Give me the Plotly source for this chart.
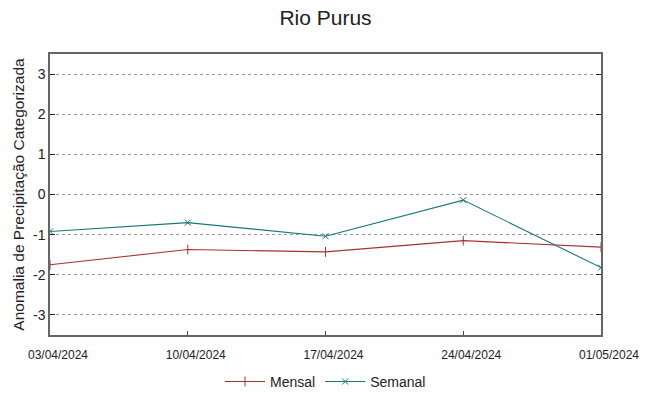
import plotly.graph_objects as go

dates = ["03/04/2024", "10/04/2024", "17/04/2024", "24/04/2024", "01/05/2024"]
mensal = [-1.75, -1.37, -1.43, -1.15, -1.31]
semanal = [-0.92, -0.70, -1.04, -0.14, -1.82]
y_ticks = [-3, -2, -1, 0, 1, 2, 3]
y_labels = ["-3", "-2", "-1", "0", "1", "2", "3"]

fig = go.Figure()
fig.add_trace(go.Scatter(x=dates, y=mensal, name="Mensal", mode="lines+markers",
                         line=dict(color="#a83232", width=1.1),
                         marker=dict(symbol="line-ns", size=7, line=dict(color="#a83232", width=1))))
fig.add_trace(go.Scatter(x=dates, y=semanal, name="Semanal", mode="lines+markers",
                         line=dict(color="#167878", width=1.1),
                         marker=dict(symbol="x-thin", size=6, line=dict(color="#167878", width=1))))

fig.update_layout(
    width=649, height=396,
    margin=dict(l=50, r=48, t=54, b=61, autoexpand=False),
    paper_bgcolor="white", plot_bgcolor="white",
    font=dict(family="Liberation Sans, Arial, sans-serif", color="#222"),
    title=dict(text="Rio Purus", x=0.5, xanchor="center", xref="paper",
               y=0.955, yref="container", yanchor="middle", automargin=False,
               font=dict(size=21, color="#222")),
    showlegend=True,
    legend=dict(orientation="h", x=0.5, xanchor="center", y=-0.167, yanchor="middle",
                font=dict(size=14), bgcolor="rgba(0,0,0,0)", itemwidth=40),
    xaxis=dict(type="category", range=[0, 4], showgrid=False, automargin=False,
               showline=True, linecolor="#666", linewidth=1.5, mirror=True,
               ticks="inside", ticklen=4, tickcolor="#444",
               ticklabelstandoff=8, ticklabelshift=8,
               tickfont=dict(size=12), zeroline=False),
    yaxis=dict(range=[-3.5, 3.5], tickvals=y_ticks, ticktext=y_labels, showgrid=True,
               automargin=False,
               gridcolor="#999", griddash="dot", gridwidth=1,
               showline=True, linecolor="#666", linewidth=1.5, mirror="allticks",
               ticks="inside", ticklen=5, tickcolor="#222",
               tickfont=dict(size=14), zeroline=False,
               title=dict(text="Anomalia de Precipitação Categorizada", font=dict(size=15.5), standoff=5)),
)

fig.write_html("out.html", config={"displayModeBar": False},
               post_script="document.body.style.margin='0';document.body.style.overflow='hidden';")
